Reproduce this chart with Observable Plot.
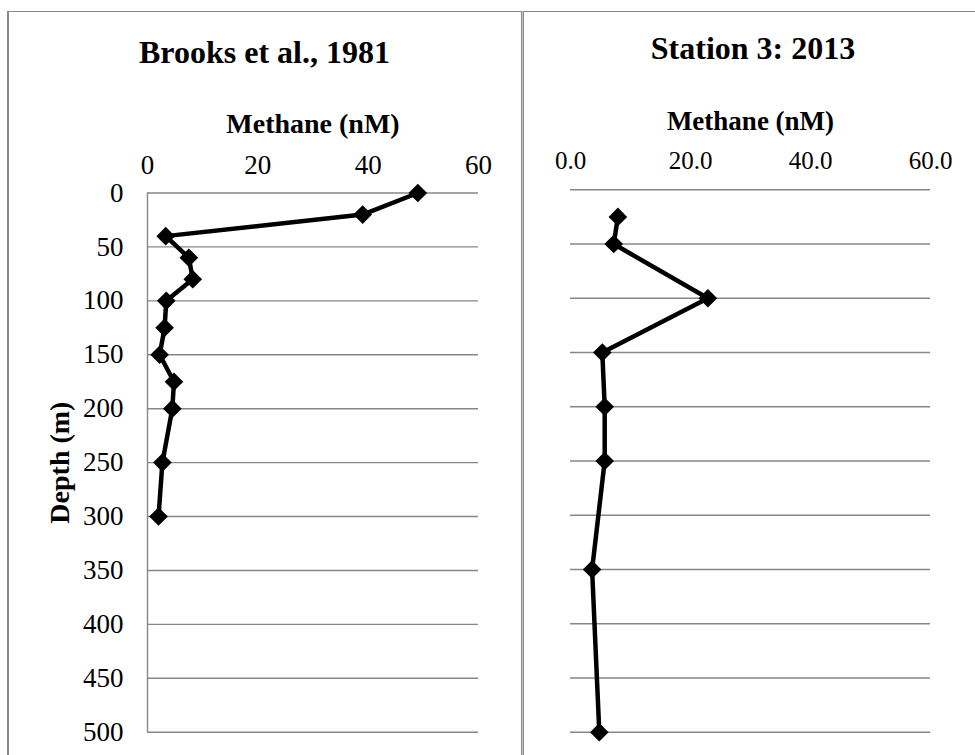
<!DOCTYPE html>
<html>
<head>
<meta charset="utf-8">
<script src="https://cdn.jsdelivr.net/npm/d3@7"></script>
<script src="https://cdn.jsdelivr.net/npm/@observablehq/plot@0.6"></script>
<style>
  body { margin: 0; background: #fff; }
  #chart {
    position: relative; width: 975px; height: 755px; overflow: hidden;
    font-family: "Liberation Serif", "Times New Roman", serif;
  }
  #chart svg { position: absolute; top: 0; }
  .rule-top { position: absolute; left: 7px; top: 10.5px; width: 968px; height: 1.5px; background: #8a8a8a; }
  .rule-left { position: absolute; left: 6.7px; top: 10.5px; width: 2px; height: 745px; background: #8a8a8a; }
  .rule-split {
    position: absolute; left: 520.5px; top: 10.5px; width: 1px; height: 745px; background: #c4c4c4;
    border-left: 1.6px solid #8a8a8a; border-right: 1.6px solid #8a8a8a;
  }
</style>
</head>
<body>
<div id="chart">
  <div class="rule-top"></div>
  <div class="rule-left"></div>
  <div class="rule-split"></div>
</div>
<script>
// Brooks et al., 1981 profile: depth (m) and dissolved methane (nM)
const brooksDepth   = [0, 20, 40, 60, 80, 100, 125, 150, 175, 200, 250, 300];
const brooksMethane = [49.0, 39.0, 3.3, 7.5, 8.2, 3.4, 3.1, 2.2, 4.8, 4.5, 2.7, 2.0];

// Station 3, 2013 profile
const station3Depth   = [25, 50, 100, 150, 200, 250, 350, 500];
const station3Methane = [7.9, 7.2, 22.9, 5.3, 5.7, 5.7, 3.6, 4.8];

const methaneTicks = [0, 20, 40, 60];
const depthTicks = [0, 50, 100, 150, 200, 250, 300, 350, 400, 450, 500];

const panelTitles = ["Brooks et al., 1981", "Station 3: 2013"];
const xTitle = "Methane (nM)";
const yTitle = "Depth (m)";

const toRows = (depth, methane) => depth.map((d, i) => ({depth: d, methane: methane[i]}));
const brooks = toRows(brooksDepth, brooksMethane);
const station3 = toRows(station3Depth, station3Methane);

const serif = '"Liberation Serif", "Times New Roman", serif';
const gridGray = "#878787";

function profileMarks(rows) {
  return [
    Plot.line(rows, {x: "methane", y: "depth", stroke: "black", strokeWidth: 4.5, strokeLinejoin: "miter"}),
    Plot.dot(rows, {x: "methane", y: "depth", symbol: "diamond2", r: 8.4, fill: "black", stroke: "none"})
  ];
}

// centred label text anchored to a side of the frame
const label = (text, opts) => Plot.text([text], {textAnchor: "middle", lineAnchor: "middle", fontWeight: "bold", ...opts});

// Left panel: with depth axis
const left = Plot.plot({
  width: 521, height: 755,
  marginLeft: 147, marginRight: 43, marginTop: 192.5, marginBottom: 23.3,
  style: {fontFamily: serif, fontSize: "27px", background: "transparent", color: "black", overflow: "visible"},
  x: {domain: [0, 60]},
  y: {domain: [0, 500], reverse: true},
  marks: [
    Plot.gridY(depthTicks, {stroke: gridGray, strokeOpacity: 1, strokeWidth: 1.4}),
    Plot.ruleX([0], {stroke: gridGray, strokeWidth: 1.4}),
    Plot.axisX({anchor: "top", ticks: methaneTicks, tickSize: 0, tickPadding: 19, fontSize: 27, label: null}),
    Plot.axisY({anchor: "left", ticks: depthTicks, tickSize: 0, tickPadding: 24, fontSize: 27, label: null}),
    label(xTitle, {frameAnchor: "top", dy: -68.5, fontSize: 28}),
    label(yTitle, {frameAnchor: "left", dx: -87, rotate: -90, fontSize: 28}),
    label(panelTitles[0], {frameAnchor: "top", dx: -48.5, dy: -140, fontSize: 32}),
    ...profileMarks(brooks)
  ]
});
left.style.left = "0px";

// Right panel: shares depth grid, no depth labels
const right = Plot.plot({
  width: 451, height: 755,
  marginLeft: 46, marginRight: 45, marginTop: 189.3, marginBottom: 23.3,
  style: {fontFamily: serif, fontSize: "25px", background: "transparent", color: "black", overflow: "visible"},
  x: {domain: [0, 60]},
  y: {domain: [0, 500], reverse: true, axis: null},
  marks: [
    Plot.gridY(depthTicks, {stroke: gridGray, strokeOpacity: 1, strokeWidth: 1.4}),
    Plot.axisX({anchor: "top", ticks: methaneTicks, tickFormat: d3.format(".1f"), tickSize: 0, tickPadding: 21, fontSize: 25, label: null}),
    label(xTitle, {frameAnchor: "top", dy: -68, fontSize: 27}),
    label(panelTitles[1], {frameAnchor: "top", dx: 2.5, dy: -141.5, fontSize: 32}),
    ...profileMarks(station3)
  ]
});
right.style.left = "524px";

document.getElementById("chart").append(left, right);
</script>
</body>
</html>
